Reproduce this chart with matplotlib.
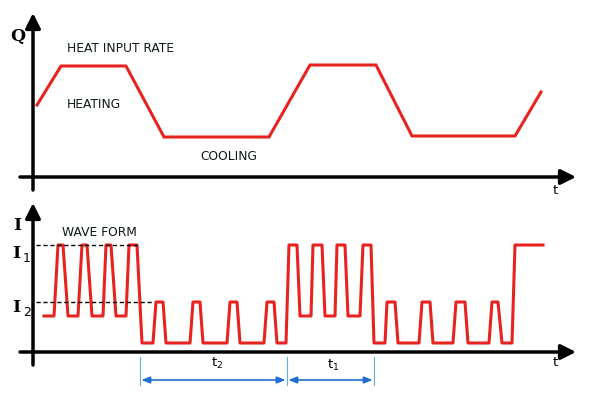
import matplotlib
matplotlib.use("Agg")
import matplotlib.pyplot as plt

# ---------------- data ----------------
# top panel: heat input rate Q vs time t
heat_t = [4, 28, 93, 131, 236, 277, 343, 379, 482, 508]
heat_q = [72, 111, 111, 40, 40, 112, 112, 41, 41, 85]

# bottom panel: current waveform I vs time t
wave_t = [11, 21, 25, 30, 35, 45, 49, 54, 59, 70, 73, 78, 83, 93, 96, 104, 109,
          120, 123, 130, 133, 157, 160, 167, 170, 194, 197, 204, 207, 231, 234, 241, 244,
          253, 256, 264, 267, 278, 280, 289, 292, 302, 304, 312, 315, 327, 330, 338, 341,
          352, 354, 362, 365, 386, 389, 397, 400, 420, 423, 432, 435, 456, 459, 465, 469,
          479, 482, 510]
wave_i = [36, 36, 107, 107, 36, 36, 107, 107, 36, 36, 107, 107, 36, 36, 107, 107, 9,
          9, 50, 50, 9, 9, 50, 50, 9, 9, 50, 50, 9, 9, 50, 50, 9,
          9, 107, 107, 36, 36, 107, 107, 36, 36, 107, 107, 36, 36, 107, 107, 9,
          9, 50, 50, 9, 9, 50, 50, 9, 9, 50, 50, 9, 9, 50, 50, 9,
          9, 107, 107]

level_I1 = 107
level_I2 = 50
t2_span = [107, 254]
t1_span = [254, 341]

RED = "#e8231f"
BLUE = "#1f6fd1"
LBLUE = "#5fb0dc"

fig = plt.figure(figsize=(5.94, 3.99), dpi=100)
fig.patch.set_facecolor("white")

W, H = 594, 399
# ---------- top panel ----------
ax1 = fig.add_axes([0, 200 / H, 1, 199 / H])
ax1.set_xlim(-33, W - 33)
ax1.set_ylim(177 - 199, 177)
ax1.axis("off")

# ---------- bottom panel ----------
ax2 = fig.add_axes([0, 0, 1, 200 / H])
ax2.set_xlim(-33, W - 33)
ax2.set_ylim(352 - 399, 352 - 199)
ax2.axis("off")

arrow_kw = dict(arrowstyle="-|>,head_length=0.9,head_width=0.45", color="black",
                lw=2.5, shrinkA=0, shrinkB=0)
# axes with arrows
ax1.annotate("", xy=(543, 0), xytext=(-13, 0), arrowprops=arrow_kw)
ax1.annotate("", xy=(0, 164), xytext=(0, -13), arrowprops=arrow_kw)
ax2.annotate("", xy=(543, 0), xytext=(-13, 0), arrowprops=arrow_kw)
ax2.annotate("", xy=(0, 149), xytext=(0, -13), arrowprops=arrow_kw)

# curves
ax1.plot(heat_t, heat_q, color=RED, lw=2.2, solid_joinstyle="miter")
ax2.plot(wave_t, wave_i, color=RED, lw=2.2, solid_joinstyle="round")

# dashed reference levels
ax2.plot([3, 105], [level_I1, level_I1], color="black", lw=1.0, ls=(0, (3, 2)))
ax2.plot([3, 120], [level_I2, level_I2], color="black", lw=1.0, ls=(0, (3, 2)))

# interval markers
for x in [t2_span[0], t2_span[1], t1_span[1]]:
    ax2.plot([x, x], [-5, -33], color=LBLUE, lw=0.8)
blue_kw = dict(arrowstyle="<|-|>,head_length=0.5,head_width=0.2", color=BLUE,
               lw=1.2, shrinkA=1, shrinkB=1)
ax2.annotate("", xy=(t2_span[1], -28), xytext=(t2_span[0], -28), arrowprops=blue_kw)
ax2.annotate("", xy=(t1_span[1], -28), xytext=(t1_span[0], -28), arrowprops=blue_kw)

# text
sans = "DejaVu Sans"
serif = "DejaVu Serif"
lab = dict(fontsize=8.8, family=sans, color="#0d1a14", va="center", ha="left")
ax1.text(34, 128, "HEAT INPUT RATE", **lab)
ax1.text(34, 72, "HEATING", **lab)
ax1.text(167, 20, "COOLING", **lab)
ax2.text(29, 119, "WAVE FORM", **lab)

ax1.text(-15, 141, "Q", fontsize=12.5, family=serif, fontweight="bold", ha="center", va="center")
ax2.text(-16, 127, "I", fontsize=12.5, family=serif, fontweight="bold", ha="center", va="center")
ax2.text(-17, 99, "I", fontsize=12.5, family=serif, fontweight="bold", ha="center", va="center")
ax2.text(-6, 94, "1", fontsize=9, family=sans, ha="center", va="center")
ax2.text(-17, 45, "I", fontsize=12.5, family=serif, fontweight="bold", ha="center", va="center")
ax2.text(-6, 40, "2", fontsize=9, family=sans, ha="center", va="center")

ax1.text(522, -13, "t", fontsize=9.5, family=sans, ha="center", va="center")
ax2.text(522, -11, "t", fontsize=9.5, family=sans, ha="center", va="center")
ax2.text(184, -11, "t$_2$", fontsize=9.5, family=sans, ha="center", va="center")
ax2.text(300, -13, "t$_1$", fontsize=9.5, family=sans, ha="center", va="center")

fig.savefig("out.png", dpi=100, facecolor="white")
